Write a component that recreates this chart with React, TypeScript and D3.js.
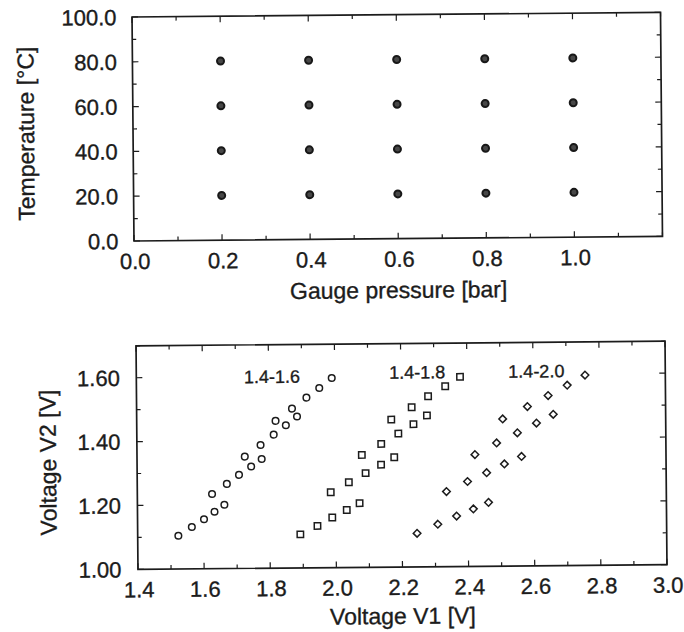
import React from "react";
import * as d3 from "d3";

// ---------- Top chart data ----------
const pressureValues = [0.2, 0.4, 0.6, 0.8, 1.0];
const temperatureValues = [20, 40, 60, 80];
const topXTicks = [0, 0.2, 0.4, 0.6, 0.8, 1.0];
const topYTicks = [0, 20, 40, 60, 80, 100];

// ---------- Bottom chart data ----------
const labels = ["1.4-1.6", "1.4-1.8", "1.4-2.0"];
const v1_16 = [1.523, 1.564, 1.601, 1.633, 1.663, 1.626, 1.671, 1.708, 1.745, 1.777, 1.726, 1.774, 1.814, 1.820, 1.851, 1.885, 1.870, 1.914, 1.953, 1.991];
const v2_16 = [1.104, 1.131, 1.155, 1.178, 1.200, 1.234, 1.265, 1.293, 1.319, 1.342, 1.350, 1.386, 1.418, 1.461, 1.447, 1.474, 1.499, 1.533, 1.563, 1.594];
const v1_18 = [1.892, 1.944, 1.989, 2.033, 2.072, 1.985, 2.040, 2.091, 2.138, 2.178, 2.080, 2.139, 2.191, 2.170, 2.237, 2.232, 2.282, 2.278, 2.334, 2.379];
const v2_18 = [1.105, 1.131, 1.157, 1.180, 1.201, 1.236, 1.267, 1.295, 1.321, 1.344, 1.352, 1.386, 1.418, 1.462, 1.447, 1.500, 1.534, 1.474, 1.565, 1.594];
const v1_20 = [2.245, 2.308, 2.365, 2.416, 2.462, 2.335, 2.399, 2.457, 2.511, 2.563, 2.422, 2.488, 2.551, 2.507, 2.609, 2.582, 2.660, 2.645, 2.703, 2.757];
const v2_20 = [1.105, 1.133, 1.158, 1.180, 1.200, 1.235, 1.266, 1.293, 1.320, 1.343, 1.350, 1.386, 1.417, 1.461, 1.447, 1.499, 1.474, 1.533, 1.565, 1.596];
const labelV1 = [1.81, 2.25, 2.61];
const labelV2 = [1.58, 1.59, 1.59];
const botXTicks = [1.4, 1.6, 1.8, 2.0, 2.2, 2.4, 2.6, 2.8, 3.0];
const botYTicks = [1.0, 1.2, 1.4, 1.6];

const FONT = "'Liberation Sans', Arial, Helvetica, sans-serif";
const INK = "#1c1c1c";
const TXT = { fill: INK, stroke: INK, strokeWidth: 0.35 } as const;

function Frame({ x, y }: { x: any; y: any }) {
  const [x0, x1] = x.range();
  const [y0, y1] = y.range();
  return (
    <rect x={x0} y={y1} width={x1 - x0} height={y0 - y1} fill="none" stroke={INK} strokeWidth={1.7} />
  );
}

function Ticks({ x, y, xMinor, yMinor, xMajor, yMajor }: any) {
  const [x0, x1] = x.range();
  const [y0, y1] = y.range();
  const isMajor = (v: number, arr: number[]) => arr.some((m) => Math.abs(m - v) < 1e-6);
  const out: any[] = [];
  xMinor.forEach((v: number, i: number) => {
    const L = isMajor(v, xMajor) ? 6 : 4;
    const px = x(v);
    out.push(<line key={"xb" + i} x1={px} x2={px} y1={y0} y2={y0 - L} stroke={INK} strokeWidth={1.2} />);
    out.push(<line key={"xt" + i} x1={px} x2={px} y1={y1} y2={y1 + L} stroke={INK} strokeWidth={1.2} />);
  });
  yMinor.forEach((v: number, i: number) => {
    const L = isMajor(v, yMajor) ? 6 : 4;
    const py = y(v);
    out.push(<line key={"yl" + i} x1={x0} x2={x0 + L} y1={py} y2={py} stroke={INK} strokeWidth={1.2} />);
    out.push(<line key={"yr" + i} x1={x1} x2={x1 - L} y1={py} y2={py} stroke={INK} strokeWidth={1.2} />);
  });
  return <g>{out}</g>;
}

export default function App() {
  // top chart scales
  const xT = d3.scaleLinear().domain([0, 1.2]).range([133, 661.5]);
  const yT = d3.scaleLinear().domain([0, 100]).range([238.7, 14.7]);
  // bottom chart scales
  const xB = d3.scaleLinear().domain([1.4, 3.0]).range([137, 666]);
  const yB = d3.scaleLinear().domain([1.0, 1.7]).range([567, 343.5]);

  const fT = d3.format(".1f");
  const fB2 = d3.format(".2f");
  const fB1 = d3.format(".1f");

  const topXMinor = d3.range(0, 1.2001, 0.1).map((v) => +v.toFixed(2));
  const topYMinor = d3.range(0, 100.001, 10);
  const botXMinor = d3.range(1.4, 3.0001, 0.1).map((v) => +v.toFixed(2));
  const botYMinor = d3.range(1.0, 1.7001, 0.1).map((v) => +v.toFixed(2));

  const grid: { p: number; t: number }[] = [];
  temperatureValues.forEach((t) => pressureValues.forEach((p) => grid.push({ p, t })));

  const s16 = v1_16.map((v, i) => [v, v2_16[i]]);
  const s18 = v1_18.map((v, i) => [v, v2_18[i]]);
  const s20 = v1_20.map((v, i) => [v, v2_20[i]]);

  const diamond = "M0,-3.8L3.8,0L0,3.8L-3.8,0Z";

  // slight scan skew of the original page
  const tilt = -0.5;
  const topCx = (xT.range()[0] + xT.range()[1]) / 2;
  const topCy = (yT.range()[0] + yT.range()[1]) / 2;
  const botCx = (xB.range()[0] + xB.range()[1]) / 2;
  const botCy = (yB.range()[0] + yB.range()[1]) / 2;

  return (
    <svg
      width={684}
      height={632}
      viewBox="0 0 684 632"
      style={{ position: "absolute", left: 0, top: 0, background: "#fff" }}
      fontFamily={FONT}
    >
      <rect x={0} y={0} width={684} height={632} fill="#fff" />

      {/* ---------------- Top chart ---------------- */}
      <g transform={`rotate(${tilt},${topCx},${topCy})`}>
        <Frame x={xT} y={yT} />
        <Ticks x={xT} y={yT} xMinor={topXMinor} yMinor={topYMinor} xMajor={topXTicks} yMajor={topYTicks} />
        {topYTicks.map((v) => (
          <text key={"tyl" + v} x={xT.range()[0] - 15.5} y={yT(v)} dy="0.36em" textAnchor="end" fontSize={22} {...TXT}>
            {fT(v)}
          </text>
        ))}
        {topXTicks.map((v) => (
          <text key={"txl" + v} x={xT(v) + 1} y={yT.range()[0] + 28} textAnchor="middle" fontSize={22} {...TXT}>
            {fT(v)}
          </text>
        ))}
        {grid.map((d, i) => (
          <circle key={"g" + i} cx={xT(d.p)} cy={yT(d.t)} r={3.5} fill="#474747" stroke="#181818" strokeWidth={2} />
        ))}
        <text x={topCx} y={298} textAnchor="middle" fontSize={23} {...TXT}>
          Gauge pressure [bar]
        </text>
        <text transform={`translate(34,130.5) rotate(-90)`} textAnchor="middle" fontSize={23} {...TXT}>
          Temperature [°C]
        </text>
      </g>

      {/* ---------------- Bottom chart ---------------- */}
      <g transform={`rotate(${tilt},${botCx},${botCy})`}>
        <Frame x={xB} y={yB} />
        <Ticks x={xB} y={yB} xMinor={botXMinor} yMinor={botYMinor} xMajor={botXTicks} yMajor={botYTicks} />
        {botYTicks.map((v) => (
          <text key={"byl" + v} x={xB.range()[0] - 16.5} y={yB(v)} dy="0.36em" textAnchor="end" fontSize={22} {...TXT}>
            {fB2(v)}
          </text>
        ))}
        {botXTicks.map((v) => (
          <text key={"bxl" + v} x={xB(v) + 1} y={yB.range()[0] + 28} textAnchor="middle" fontSize={22} {...TXT}>
            {fB1(v)}
          </text>
        ))}
        {s16.map((d, i) => (
          <circle key={"c" + i} cx={xB(d[0])} cy={yB(d[1])} r={3.3} fill="#fff" stroke={INK} strokeWidth={1.5} />
        ))}
        {s18.map((d, i) => (
          <rect key={"s" + i} x={xB(d[0]) - 3.2} y={yB(d[1]) - 3.2} width={6.4} height={6.4} fill="#fff" stroke={INK} strokeWidth={1.5} />
        ))}
        {s20.map((d, i) => (
          <path key={"d" + i} d={diamond} transform={`translate(${xB(d[0])},${yB(d[1])})`} fill="#fff" stroke={INK} strokeWidth={1.5} />
        ))}
        {labels.map((l, i) => (
          <text key={"lab" + i} x={xB(labelV1[i])} y={yB(labelV2[i])} textAnchor="middle" fontSize={18} {...TXT}>
            {l}
          </text>
        ))}
        <text x={botCx} y={624} textAnchor="middle" fontSize={23} {...TXT}>
          Voltage V1 [V]
        </text>
        <text transform={`translate(56,459.5) rotate(-90)`} textAnchor="middle" fontSize={23} {...TXT}>
          Voltage V2 [V]
        </text>
      </g>
    </svg>
  );
}
